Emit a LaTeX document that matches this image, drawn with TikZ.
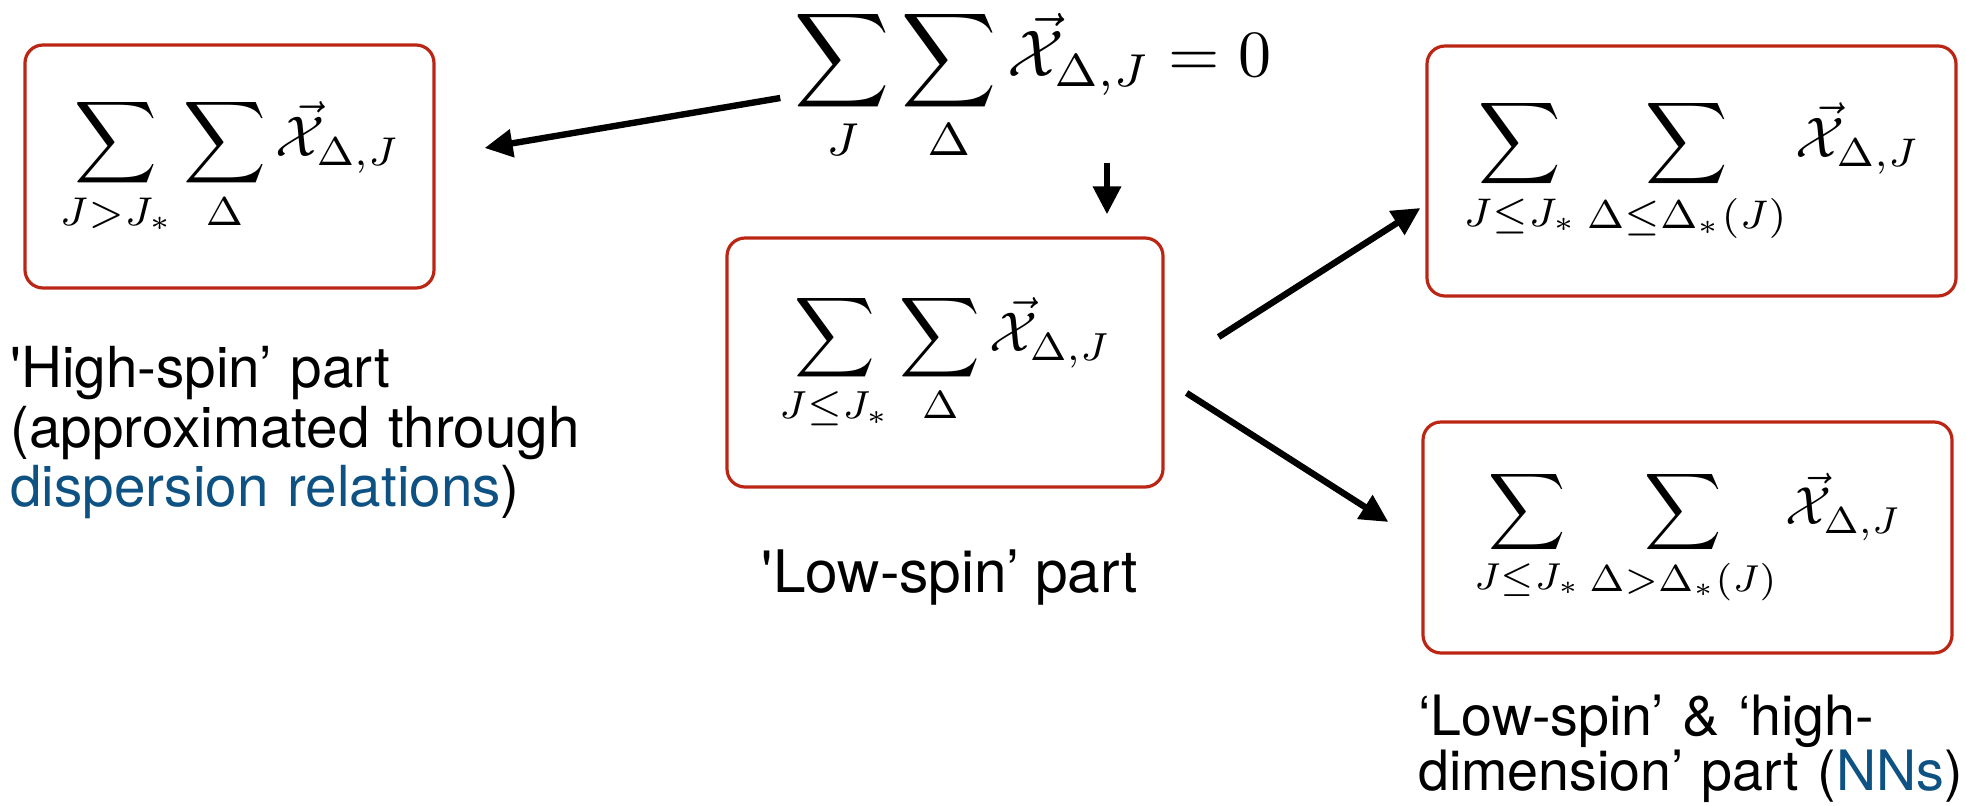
\documentclass[tikz,border=0pt]{standalone}
\usepackage{graphicx}
\usepackage[no-math]{fontspec}
\setmainfont{TeX Gyre Heros}
\usetikzlibrary{arrows.meta,calc}
\definecolor{boxred}{RGB}{187,38,20}
\definecolor{nnblue}{RGB}{14,82,132}
\newcommand{\eqn}[2]{\scalebox{#1}{$\displaystyle #2$}}
\tikzset{
  sumbox/.style={draw=boxred, line width=1.6pt, rounded corners=9pt, inner sep=0pt, align=center},
  arr/.style={line width=3.2pt, -{Triangle[length=14pt,width=13.5pt]}},
  lbl/.style={inner sep=0pt, font=\fontsize{28.3}{29.75}\selectfont},
}
\begin{document}
\begin{tikzpicture}[x=0.5pt,y=-0.5pt]
\useasboundingbox (0,0) rectangle (1966,806);
% top equation
\node[inner sep=0pt] (top) at (1033,85)
  {\eqn{3.3}{\sum_{J}\sum_{\Delta}\vec{\mathcal{X}}_{\Delta,J}=0}};
% boxes
\node[sumbox, minimum width=204.5pt, minimum height=121.5pt] (b1) at (229.5,166.5)
  {\eqn{2.87}{\sum_{J>J_*}\sum_{\Delta}\vec{\mathcal{X}}_{\Delta,J}}};
\node[sumbox, minimum width=218pt, minimum height=124.5pt] (b2) at (945,362.5)
  {\eqn{2.8}{\sum_{J\le J_*}\sum_{\Delta}\vec{\mathcal{X}}_{\Delta,J}}};
\node[sumbox, minimum width=264.5pt, minimum height=125pt] (b3) at (1691.5,171)
  {\eqn{2.86}{\sum_{J\le J_*}\sum_{\Delta\le\Delta_*(J)}\vec{\mathcal{X}}_{\Delta,J}}};
\node[sumbox, minimum width=264.5pt, minimum height=115.5pt] (b4) at (1687.5,537.5)
  {\eqn{2.68}{\sum_{J\le J_*}\sum_{\Delta>\Delta_*(J)}\vec{\mathcal{X}}_{\Delta,J}}};
% labels
\node[lbl, anchor=base west, text width=320pt, align=left] (hl) at (10,388)
  {\textquotesingle High-spin’ part\\(approximated through\\\textcolor{nnblue}{dispersion relations})};
\node[lbl, anchor=base, font=\fontsize{29.3}{30}\selectfont] (ll) at (950,593) {\textquotesingle Low-spin’ part};
\node[lbl, anchor=base west, text width=300pt, align=left, font=\fontsize{27.8}{27.5}\selectfont] (rl) at (1418,736)
  {‘Low-spin’ \& ‘high-\\dimension’ part (\textcolor{nnblue}{NNs})};
% arrows
\draw[arr] ($(top.west)+(-14,13)$) -- ($(b1.east)+(49,-18.5)$);
\draw[arr] ($(top.south)+(74,0)$) -- ($(b2.north)+(162,-22)$);
\draw[arr] ($(b2.east)+(54,-25.5)$) -- ($(b3.west)+(-5,37)$);
\draw[arr] ($(b2.east)+(22,30.5)$) -- ($(b4.west)+(-33,-15.5)$);
\end{tikzpicture}
\end{document}
